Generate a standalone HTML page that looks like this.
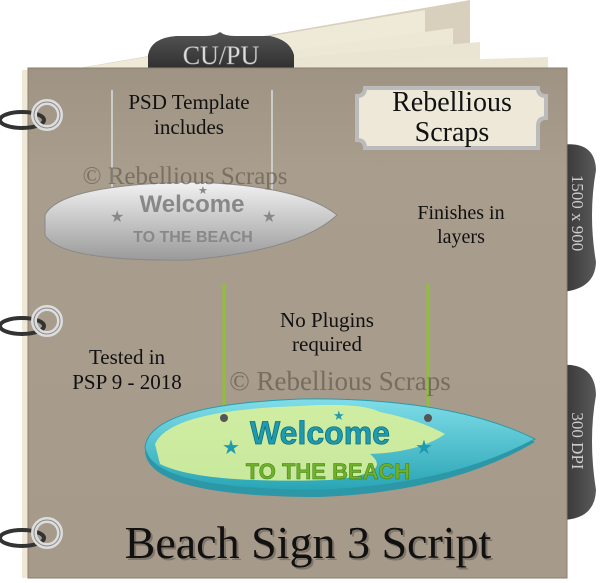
<!DOCTYPE html>
<html><head><meta charset="utf-8"><style>
html,body{margin:0;padding:0;background:#fff;width:600px;height:583px;overflow:hidden}
svg text{font-family:"Liberation Serif",serif}
</style></head><body>
<svg width="600" height="583" viewBox="0 0 600 583" xmlns="http://www.w3.org/2000/svg">
<defs>
<linearGradient id="bd" x1="0" y1="0" x2="0" y2="1"><stop offset="0" stop-color="#9f9383"/><stop offset=".2" stop-color="#a99d8d"/><stop offset="1" stop-color="#a69a8a"/></linearGradient>
<linearGradient id="tab" x1="0" y1="0" x2="0" y2="1"><stop offset="0" stop-color="#555"/><stop offset="1" stop-color="#2e2e2e"/></linearGradient>
<linearGradient id="tabr" x1="0" y1="0" x2="1" y2="0"><stop offset="0" stop-color="#333"/><stop offset="1" stop-color="#5a5a5a"/></linearGradient>
<linearGradient id="gs" x1="0" y1="0" x2="0" y2="1"><stop offset="0" stop-color="#f2f2f2"/><stop offset="1" stop-color="#9a9a9a"/></linearGradient>
<linearGradient id="ts" x1="0" y1="0" x2="0" y2="1"><stop offset="0" stop-color="#7fdde8"/><stop offset="1" stop-color="#2aa5b5"/></linearGradient>
</defs>
<polygon points="22,78 470,0 470,70 22,78" fill="#d8d0bd"/>
<polygon points="22,78 425,10 425,70" fill="#efe9d8"/>
<polygon points="150,70 453,28 453,70" fill="#ede7d6"/>
<polygon points="150,70 480,42 480,70" fill="#eae4d2"/>
<polygon points="150,70 548,57 548,70" fill="#ebe5d3"/>
<path d="M148,70 L148,55 Q151,38 176,36 L205,36 Q215,36 220,32 Q225,36 235,36 L270,36 Q290,40 294,55 L294,70 Z" fill="url(#tab)"/>
<text x="221" y="64" font-size="26" fill="#ddd" stroke="#888" stroke-width=".5" text-anchor="middle">CU/PU</text>
<path d="M560,145 Q595,140 596,170 Q588,215 596,262 Q595,290 560,292 Z" fill="url(#tabr)"/>
<path d="M560,365 Q595,362 596,395 Q588,440 596,490 Q595,520 560,520 Z" fill="url(#tabr)"/>
<text transform="translate(572,213) rotate(90)" font-size="17" fill="#ccc" text-anchor="middle">1500 x 900</text>
<text transform="translate(572,441) rotate(90)" font-size="17" fill="#ccc" text-anchor="middle">300 DPI</text>
<rect x="22" y="70" width="8" height="508" fill="#efe8d6"/>
<rect x="28" y="68" width="539" height="510" fill="url(#bd)"/>
<rect x="28" y="68" width="539" height="510" fill="none" stroke="#8a7e6e" stroke-width="1"/>
<g fill="none" stroke-linecap="round">
<g><ellipse cx="22" cy="120" rx="22" ry="8" stroke="#333" stroke-width="4"/><circle cx="47" cy="115" r="13" stroke="#ddd" stroke-width="6"/><circle cx="47" cy="115" r="13" stroke="#888" stroke-width="1"/></g>
<g><ellipse cx="22" cy="326" rx="22" ry="8" stroke="#333" stroke-width="4"/><circle cx="47" cy="321" r="13" stroke="#ddd" stroke-width="6"/><circle cx="47" cy="321" r="13" stroke="#888" stroke-width="1"/></g>
<g><ellipse cx="22" cy="538" rx="22" ry="8" stroke="#333" stroke-width="4"/><circle cx="47" cy="533" r="13" stroke="#ddd" stroke-width="6"/><circle cx="47" cy="533" r="13" stroke="#888" stroke-width="1"/></g>
</g>
<path d="M365,88 L538,88 Q538,96 546,96 L546,118 Q538,118 538,126 L538,148 L365,148 Q365,140 357,140 L357,96 Q365,96 365,88 Z" fill="#eee8d9" stroke="#bbb" stroke-width="4"/>
<text x="452" y="111" font-size="28" text-anchor="middle" fill="#111">Rebellious</text>
<text x="452" y="141" font-size="28" text-anchor="middle" fill="#111">Scraps</text>
<line x1="112" y1="90" x2="112" y2="190" stroke="#ccc" stroke-width="2"/>
<line x1="272" y1="90" x2="272" y2="190" stroke="#ccc" stroke-width="2"/>
<text x="189" y="109" font-size="21" text-anchor="middle" fill="#111">PSD Template</text>
<text x="189" y="134" font-size="21" text-anchor="middle" fill="#111">includes</text>
<path d="M45,215 Q60,185 190,182 Q300,185 337,215 Q300,250 190,260 Q60,262 45,235 Z" fill="url(#gs)" stroke="#888" stroke-width="1"/>
<text x="192" y="212" font-size="24" text-anchor="middle" fill="#888" style="font-family:'Liberation Sans',sans-serif" font-weight="bold">Welcome</text>
<text x="193" y="242" font-size="16" text-anchor="middle" fill="#888" style="font-family:'Liberation Sans',sans-serif" font-weight="bold">TO THE BEACH</text>
<text x="110" y="222" font-size="16" fill="#888">★</text><text x="262" y="222" font-size="16" fill="#888">★</text><text x="198" y="194" font-size="11" fill="#888">★</text>
<text x="185" y="184" font-size="25" text-anchor="middle" fill="#6f6658" opacity=".8">© Rebellious Scraps</text>
<text x="461" y="219" font-size="20" text-anchor="middle" fill="#111">Finishes in</text>
<text x="461" y="243" font-size="20" text-anchor="middle" fill="#111">layers</text>
<text x="327" y="327" font-size="21" text-anchor="middle" fill="#111">No Plugins</text>
<text x="327" y="351" font-size="21" text-anchor="middle" fill="#111">required</text>
<text x="127" y="364" font-size="21" text-anchor="middle" fill="#111">Tested in</text>
<text x="127" y="389" font-size="21" text-anchor="middle" fill="#111">PSP 9 - 2018</text>
<line x1="224" y1="284" x2="224" y2="440" stroke="#8fbf3a" stroke-width="3"/>
<line x1="428" y1="284" x2="428" y2="440" stroke="#8fbf3a" stroke-width="3"/>
<text x="340" y="390" font-size="27" text-anchor="middle" fill="#6f6658" opacity=".85">© Rebellious Scraps</text>
<path d="M145,452 Q150,410 300,404 Q450,402 535,442 Q450,492 320,497 Q150,497 145,452 Z" fill="#2c97a6"/>
<path d="M145,447 Q150,405 300,399 Q450,397 535,439 Q450,485 320,490 Q150,490 145,447 Z" fill="url(#ts)" stroke="#2a9aa8"/>
<path d="M155,444 Q170,410 300,406 Q360,402 380,412 Q420,420 445,434 Q420,452 370,454 Q395,474 330,480 Q200,484 160,464 Z" fill="#d9ef9a" opacity=".9"/>
<circle cx="224" cy="418" r="4" fill="#555"/><circle cx="428" cy="418" r="4" fill="#555"/>
<text x="320" y="444" font-size="32" text-anchor="middle" fill="#1f9bb0" stroke="#0d6f80" stroke-width=".8" style="font-family:'Liberation Sans',sans-serif" font-weight="bold">Welcome</text>
<text x="328" y="479" font-size="22" text-anchor="middle" fill="#6fb22a" stroke="#3d7a10" stroke-width=".5" style="font-family:'Liberation Sans',sans-serif" font-weight="bold">TO THE BEACH</text>
<text x="222" y="454" font-size="20" fill="#1f9bb0">★</text><text x="415" y="454" font-size="20" fill="#1f9bb0">★</text><text x="333" y="420" font-size="13" fill="#1f9bb0">★</text>
<text x="310" y="560" font-size="46" text-anchor="middle" fill="#5a5248" opacity=".5">Beach Sign 3  Script</text>
<text x="308" y="558" font-size="46" text-anchor="middle" fill="#111">Beach Sign 3  Script</text>
</svg>
</body></html>
